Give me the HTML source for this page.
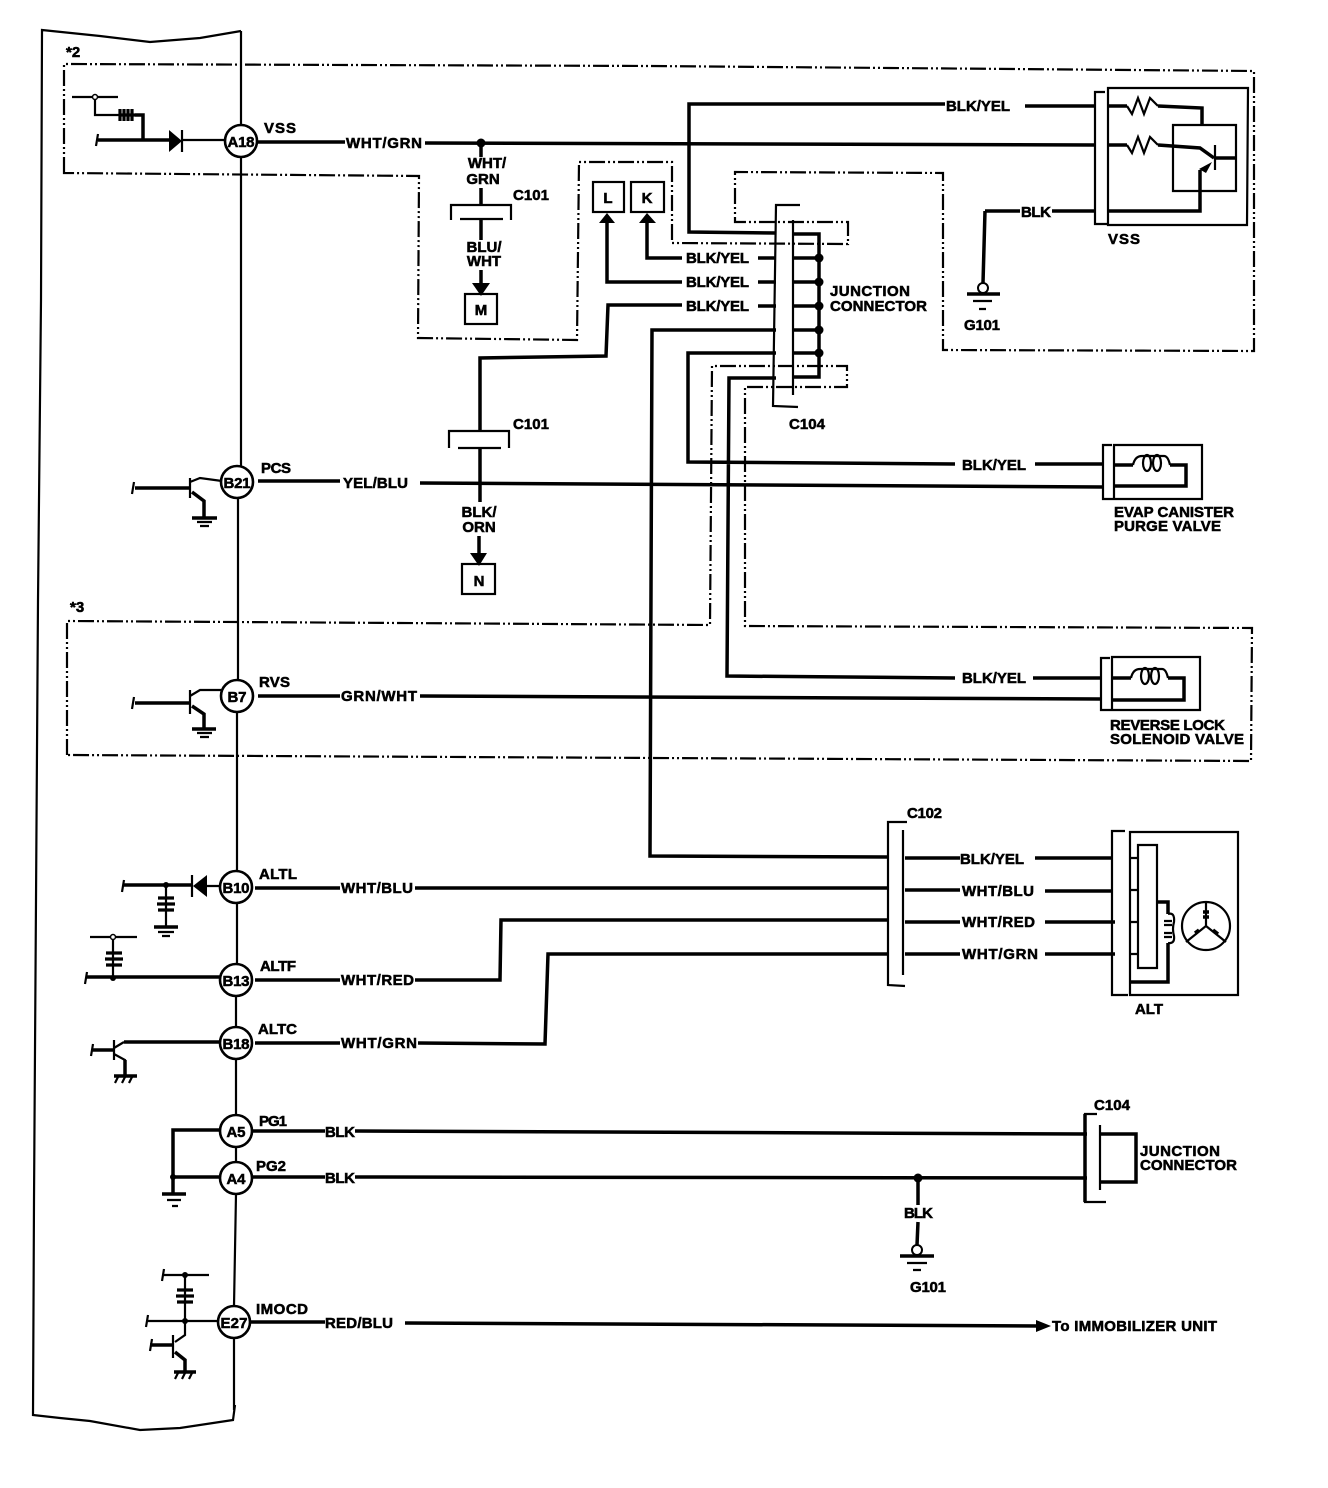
<!DOCTYPE html>
<html><head><meta charset="utf-8"><style>
html,body{margin:0;padding:0;background:#fff}
svg{display:block}
text{font-family:"Liberation Sans",sans-serif;font-weight:bold;font-size:15px;fill:#000;stroke:#000;stroke-width:.55px}
.m{text-anchor:middle}
.w{fill:none;stroke:#000;stroke-width:3.5}
.t{fill:none;stroke:#000;stroke-width:2.2}
.r{fill:none;stroke:#000;stroke-width:3.2}
.d{fill:none;stroke:#000;stroke-width:2.2;stroke-dasharray:16 3 2 3 2 3}
.c{fill:#fff;stroke:#000;stroke-width:2.6}
.b{fill:#000;stroke:none}
</style></head><body>
<svg width="1328" height="1488" viewBox="0 0 1328 1488" xmlns="http://www.w3.org/2000/svg">
<rect width="1328" height="1488" fill="#fff"/>
<!-- ECM block -->
<path class="t" d="M241 31L200 38L150 42L100 36L42 30L41 300L38 600L36 900L34 1200L33 1415L60 1418L90 1421L140 1430L180 1428L233 1420L235 1405"/>
<path class="t" d="M241 31V125M241 157V466M238 498V680M237 712V871M237 903V965M236 996V1027M236 1059V1115M236 1147V1162M236 1194L234 1306M234 1338V1410"/>
<!-- dashed boxes -->
<path class="d" d="M64 173V64L650 66L1254 71V351L943 350V173L735 172V222H848V244L672 243V162H579L577 340L418 338L419 176Z"/>
<path class="d" d="M67 755V621L400 623L710 625L712 366H847V387H745V626L1252 628L1251 761Z"/>
<!-- main wires -->
<path class="w" d="M258 142H345M425 143L1095 145"/>
<path class="w" d="M776 233L689 232V104H945M1025 106H1095"/>
<path class="w" d="M647 222V258H682M758 258H776M607 222V282H682M758 282H776"/>
<path class="w" d="M682 305H608L606 356L480 358V432M758 306H776"/>
<path class="w" d="M776 330H652L650 856L888 857M776 353H688V462L955 464M1035 464H1103M776 378H729L727 676L955 678M1033 678H1101"/>
<path class="w" d="M793 234H819V377H793M793 258H819M793 282H819M793 306H819M793 330H819M793 353H819"/>
<path class="w" d="M258 481H340M420 483L1103 487M258 696H340M420 696L1101 699"/>
<path class="w" d="M905 858H960M1035 858H1112M255 888H340M415 888H888M905 890H960M1045 891H1112"/>
<path class="w" d="M255 980H340M415 980H500L501 920H888M905 922H960M1045 922H1115"/>
<path class="w" d="M255 1043H340M418 1043L545 1044L548 954H888M905 954H960M1045 954H1115"/>
<path class="w" d="M252 1131H325M355 1131L1087 1134M252 1177H325M355 1177L1087 1178M1100 1134H1136V1182H1100"/>
<path class="w" d="M918 1178V1205M918 1222L917 1245"/>
<path class="w" d="M250 1322H325M405 1323L1040 1326"/>
<path class="b" d="M1036 1320L1051 1326L1036 1332Z"/>
<!-- junction connector C104 -->
<path class="t" d="M800 205H776L773 406L798 407M793 220V395"/>
<g class="b"><circle cx="819" cy="258" r="4.5"/><circle cx="819" cy="282" r="4.5"/><circle cx="819" cy="306" r="4.5"/><circle cx="819" cy="330" r="4.5"/><circle cx="819" cy="353" r="4.5"/><circle cx="481" cy="143" r="4.5"/><circle cx="918" cy="1178" r="4.5"/></g>
<!-- C101 upper / M -->
<path class="w" d="M481 143V157M481 188V204M481 220V240M481 270V288"/>
<path class="t" d="M451 220V205H511V220M460 219H503"/>
<path class="b" d="M472 283H490L481 296Z"/>
<rect x="465" y="294" width="32" height="30" fill="none" stroke="#000" stroke-width="2.2"/>
<!-- L K -->
<rect x="593" y="182" width="31" height="30" fill="none" stroke="#000" stroke-width="2.2"/>
<rect x="631" y="182" width="33" height="30" fill="none" stroke="#000" stroke-width="2.2"/>
<path class="b" d="M599 223H615L607 213ZM639 223H656L647 213Z"/>
<!-- C101 lower / N -->
<path class="t" d="M449 448V431H509V448M458 448H501"/>
<path class="w" d="M480 448V502M479 536V556"/>
<path class="b" d="M470 553H487L479 566Z"/>
<rect x="462" y="564" width="33" height="30" fill="none" stroke="#000" stroke-width="2.2"/>
<!-- VSS sensor -->
<path class="t" d="M1105 92H1095V224H1107"/>
<path class="t" d="M1108 88H1248L1247 225H1108ZM1173 125H1236V191H1173Z"/>
<path class="w" d="M1108 106H1127M1158 106L1202 108V125M1108 145H1127M1158 145L1200 148L1214 158M1216 158H1236M1200 170V211H1108M1052 211H1095M985 211H1020M985 211L983 283"/>
<path class="t" d="M1127 106L1132 114L1138 98L1144 114L1150 98L1158 106M1127 145L1132 153L1138 137L1144 153L1150 137L1158 145M1215 145V170"/>
<path class="b" d="M1199 169L1212 162L1206 173Z"/>
<circle cx="983" cy="288" r="5" fill="#fff" stroke="#000" stroke-width="2"/>
<path class="w" d="M967 294H1000"/><path class="t" d="M973 301H992M979 309H986"/>
<!-- EVAP -->
<path class="t" d="M1112 445H1103V499H1113M1114 445H1202V499H1114Z"/>
<path class="w" d="M1114 465H1133M1170 465H1186V486H1114"/>
<path class="t" d="M1133 465Q1135 456 1142 456H1164Q1168 456 1170 465"/>
<ellipse class="t" cx="1147" cy="463" rx="4" ry="8"/><ellipse class="t" cx="1157" cy="463" rx="4" ry="8"/>
<!-- Reverse lock -->
<path class="t" d="M1110 658H1101V710H1111M1112 657H1200V710H1112Z"/>
<path class="w" d="M1112 678H1131M1168 678H1184V700H1112"/>
<path class="t" d="M1131 678Q1133 669 1140 669H1162Q1166 669 1168 678"/>
<ellipse class="t" cx="1145" cy="676" rx="4" ry="8"/><ellipse class="t" cx="1155" cy="676" rx="4" ry="8"/>
<!-- C102 -->
<path class="t" d="M907 822H888V985L905 986M903 830V975"/>
<!-- ALT -->
<path class="t" d="M1125 831H1112V995H1128M1130 832H1238V995H1130ZM1138 845H1157V968H1138Z"/>
<path class="t" d="M1130 858H1138M1130 890H1138M1130 922H1138M1130 954H1138"/>
<path class="w" d="M1157 902H1168V914M1168 943V982H1130"/>
<path class="t" d="M1168 914Q1175 912 1174 922Q1172 929 1174 936Q1175 944 1168 943"/>
<path class="t" d="M1164 921H1172M1164 925H1172M1164 933H1172M1164 937H1172"/>
<circle cx="1206" cy="926" r="24" fill="none" stroke="#000" stroke-width="2.2"/>
<path class="t" d="M1206 902V926L1186 942M1206 926L1226 942"/>
<path class="w" d="M1203 912L1209 912M1203 917H1209M1195 933L1199 930M1213 930L1218 934"/>
<!-- C104 bottom -->
<path class="t" d="M1097 1114H1085V1202H1106"/><path class="t" d="M1100 1125V1190"/>
<path class="w" d="M1085 1114V1202"/>
<!-- ground G101 bottom -->
<circle cx="917" cy="1250" r="5" fill="#fff" stroke="#000" stroke-width="2"/>
<path class="w" d="M900 1256H934"/><path class="t" d="M907 1263H927M913 1270H921"/>
<!-- A18 internals -->
<path class="t" d="M72 97H118M95 97V115H120M98 134L96 146"/>
<path class="w" d="M98 140H169M135 115H143V140"/>
<path class="r" d="M120 109V121M124 109V121M128 109V121M132 109V121M120 115H135"/>
<path class="t" d="M182 140H225"/>
<path class="b" d="M169 130V152L182 141Z"/><path class="t" d="M182 130V152"/>
<circle cx="95" cy="97" r="2.5" fill="#fff" stroke="#000" stroke-width="1.5"/>
<!-- B21 -->
<path class="w" d="M135 488H190"/><path class="t" d="M134 482L132 494M190 478V498M190 482L200 478L222 481"/>
<path class="w" d="M192 492L204 501V517"/><path class="w" d="M192 518H217"/><path class="t" d="M197 522H212M200 526H209"/>
<!-- B7 -->
<path class="w" d="M135 703H190"/><path class="t" d="M134 697L132 709M190 690V714M190 696L200 690L221 690"/>
<path class="w" d="M192 706L204 714V728"/><path class="w" d="M192 729H216"/><path class="t" d="M197 733H212M200 737H209"/>
<!-- B10 -->
<path class="t" d="M124 880L122 892"/>
<path class="w" d="M124 885H192"/>
<path class="t" d="M206 886H220M192 875V897M166 885V927"/>
<path class="b" d="M207 875V897L193 886Z"/>
<path class="r" d="M158 898H174M157 904H175M158 910H174"/>
<path class="w" d="M154 927H178"/><path class="t" d="M158 932H174M162 936H170"/>
<circle class="b" cx="166" cy="885" r="3"/>
<!-- B13 -->
<path class="t" d="M87 972L85 984M90 937H137M113 937V977"/>
<path class="w" d="M87 977H220"/>
<path class="r" d="M106 953H122M105 959H123M106 965H122"/>
<circle cx="113" cy="937" r="2.5" fill="#fff" stroke="#000" stroke-width="1.5"/><circle class="b" cx="113" cy="978" r="3"/>
<!-- B18 -->
<path class="w" d="M124 1042H220M92 1050H114"/>
<path class="t" d="M93 1044L91 1056M114 1040V1060M114 1048L124 1042M114 1054L125 1060V1076"/>
<path class="w" d="M125 1060V1075M114 1076H137"/><path class="t" d="M118 1077L115 1083M125 1077L122 1083M132 1077L129 1083"/>
<!-- A5/A4 -->
<path class="w" d="M220 1130H173V1195M173 1177H220"/>
<path class="w" d="M162 1194H186"/><path class="t" d="M167 1200H181M172 1206H178"/>
<circle class="b" cx="173" cy="1177" r="3"/>
<!-- E27 -->
<path class="t" d="M164 1269L162 1281M162 1275H209M185 1275V1321M148 1315L146 1327M148 1321H218M185 1321V1335L175 1342M173 1335V1358M152 1339L150 1351"/>
<path class="w" d="M150 1345H173M175 1352L185 1360V1372M174 1372H196"/>
<path class="r" d="M177 1290H193M176 1296H194M177 1302H193"/>
<path class="t" d="M178 1373L175 1379M185 1373L182 1379M192 1373L189 1379"/>
<circle class="b" cx="185" cy="1275" r="3"/><circle class="b" cx="185" cy="1321" r="3"/>
<!-- circles -->
<circle class="c" cx="241" cy="141" r="16"/><circle class="c" cx="237" cy="482" r="16"/><circle class="c" cx="237" cy="696" r="16"/>
<circle class="c" cx="236" cy="887" r="16"/><circle class="c" cx="236" cy="980" r="16"/><circle class="c" cx="236" cy="1043" r="16"/>
<circle class="c" cx="236" cy="1131" r="16"/><circle class="c" cx="236" cy="1178" r="16"/><circle class="c" cx="234" cy="1322" r="16"/>
<g class="m">
<text class="m" x="241" y="147" textLength="27">A18</text><text class="m" x="237" y="488" textLength="27">B21</text><text class="m" x="237" y="702" textLength="19">B7</text>
<text class="m" x="236" y="893" textLength="27">B10</text><text class="m" x="236" y="986" textLength="27">B13</text><text class="m" x="236" y="1049" textLength="27">B18</text>
<text class="m" x="236" y="1137" textLength="19">A5</text><text class="m" x="236" y="1184" textLength="19">A4</text><text class="m" x="234" y="1328" textLength="27">E27</text>
</g>
<!-- labels -->
<text x="66" y="57" font-size="14">*2</text><text x="70" y="612">*3</text>
<text x="264" y="133" textLength="32">VSS</text>
<text x="346" y="148" textLength="76">WHT/GRN</text>
<text x="946" y="111" textLength="64">BLK/YEL</text>
<text class="m" x="487" y="168">WHT/</text><text class="m" x="483" y="184">GRN</text>
<text x="513" y="200" textLength="36">C101</text>
<text class="m" x="484" y="252">BLU/</text><text class="m" x="484" y="266">WHT</text>
<text class="m" x="481" y="315" textLength="14">M</text><text class="m" x="608" y="203">L</text><text class="m" x="647" y="203">K</text>
<text x="686" y="263" textLength="63">BLK/YEL</text><text x="686" y="287" textLength="63">BLK/YEL</text><text x="686" y="311" textLength="63">BLK/YEL</text>
<text x="830" y="296" textLength="80">JUNCTION</text><text x="830" y="311" textLength="97">CONNECTOR</text>
<text x="1021" y="217" textLength="30">BLK</text>
<text x="1108" y="244" textLength="32">VSS</text>
<text x="964" y="330" textLength="36">G101</text>
<text x="789" y="429" textLength="36">C104</text>
<text x="513" y="429" textLength="36">C101</text>
<text x="261" y="473" textLength="30">PCS</text>
<text x="343" y="488" textLength="65">YEL/BLU</text>
<text x="962" y="470" textLength="64">BLK/YEL</text>
<text x="1114" y="517" textLength="120">EVAP CANISTER</text><text x="1114" y="531" textLength="107">PURGE VALVE</text>
<text class="m" x="479" y="517">BLK/</text><text class="m" x="479" y="532">ORN</text>
<text class="m" x="479" y="586" textLength="13">N</text>
<text x="259" y="687" textLength="31">RVS</text>
<text x="341" y="701" textLength="76">GRN/WHT</text>
<text x="962" y="683" textLength="64">BLK/YEL</text>
<text x="1110" y="730" textLength="115">REVERSE LOCK</text><text x="1110" y="744" textLength="134">SOLENOID VALVE</text>
<text x="907" y="818" textLength="35">C102</text>
<text x="960" y="864" textLength="64">BLK/YEL</text><text x="962" y="896" textLength="72">WHT/BLU</text><text x="962" y="927" textLength="73">WHT/RED</text><text x="962" y="959" textLength="76">WHT/GRN</text>
<text x="1135" y="1014" textLength="28">ALT</text>
<text x="259" y="879" textLength="38">ALTL</text><text x="341" y="893" textLength="72">WHT/BLU</text>
<text x="260" y="971" textLength="36">ALTF</text><text x="341" y="985" textLength="73">WHT/RED</text>
<text x="258" y="1034" textLength="39">ALTC</text><text x="341" y="1048" textLength="76">WHT/GRN</text>
<text x="259" y="1126" textLength="28">PG1</text><text x="325" y="1137" textLength="30">BLK</text>
<text x="256" y="1171" textLength="30">PG2</text><text x="325" y="1183" textLength="30">BLK</text>
<text x="904" y="1218" textLength="29">BLK</text>
<text x="910" y="1292" textLength="36">G101</text>
<text x="1094" y="1110" textLength="36">C104</text>
<text x="1140" y="1156" textLength="80">JUNCTION</text><text x="1140" y="1170" textLength="97">CONNECTOR</text>
<text x="256" y="1314" textLength="52">IMOCD</text>
<text x="325" y="1328" textLength="68">RED/BLU</text>
<text x="1052" y="1331" textLength="165">To IMMOBILIZER UNIT</text>
</svg>
</body></html>
